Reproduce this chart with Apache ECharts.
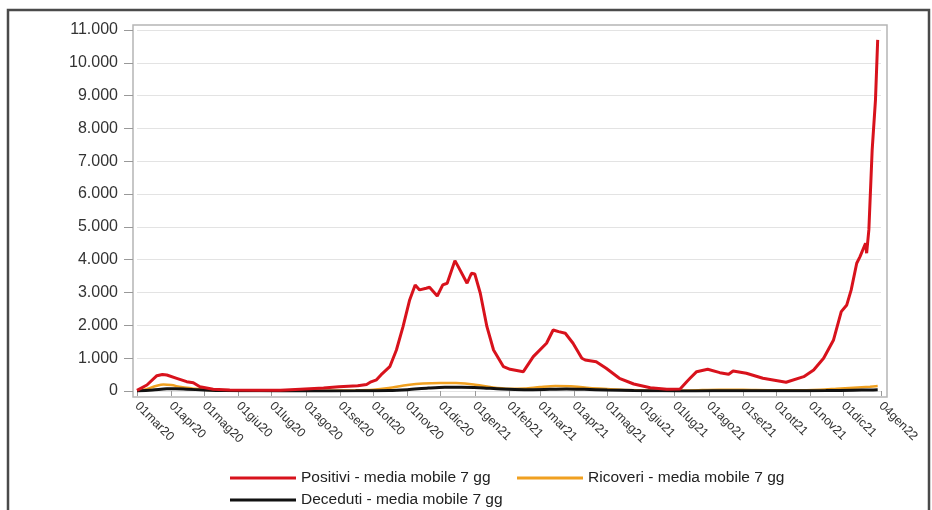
<!DOCTYPE html>
<html>
<head>
<meta charset="utf-8">
<script src="https://cdn.jsdelivr.net/npm/echarts@6/dist/echarts.min.js"></script>
<style>
html,body{margin:0;padding:0;background:#fff;}
#chart{width:932px;height:510px;}
</style>
</head>
<body>
<div id="chart"></div>
<script>
// ---- Data ----
const axisStart = '2020-03-01';
const axisEnd = '2022-01-04';
const monthNames = ['gen','feb','mar','apr','mag','giu','lug','ago','set','ott','nov','dic'];
const yTicks = [0,1000,2000,3000,4000,5000,6000,7000,8000,9000,10000,11000];

const positiviDates = ['2020-03-01','2020-03-10','2020-03-19','2020-03-24','2020-03-28','2020-04-06','2020-04-15','2020-04-21','2020-04-27','2020-05-09','2020-05-24','2020-06-20','2020-07-09','2020-07-27','2020-08-17','2020-08-31','2020-09-17','2020-09-25','2020-09-29','2020-10-04','2020-10-08','2020-10-16','2020-10-22','2020-10-28','2020-11-03','2020-11-08','2020-11-12','2020-11-18','2020-11-21','2020-11-28','2020-12-03','2020-12-07','2020-12-14','2020-12-17','2020-12-25','2020-12-29','2021-01-01','2021-01-06','2021-01-12','2021-01-18','2021-01-27','2021-02-02','2021-02-14','2021-02-23','2021-03-07','2021-03-13','2021-03-18','2021-03-24','2021-03-31','2021-04-08','2021-04-11','2021-04-21','2021-04-30','2021-05-12','2021-05-25','2021-06-09','2021-06-24','2021-07-06','2021-07-12','2021-07-15','2021-07-21','2021-07-31','2021-08-11','2021-08-19','2021-08-23','2021-09-04','2021-09-19','2021-10-10','2021-10-26','2021-11-04','2021-11-13','2021-11-22','2021-11-29','2021-12-04','2021-12-08','2021-12-13','2021-12-16','2021-12-21','2021-12-22','2021-12-24','2021-12-27','2021-12-30','2022-01-01'];
const positiviValues = [20,183,466,505,488,387,284,253,131,52,30,20,25,55,90,130,160,200,280,340,490,741,1250,1960,2774,3232,3080,3131,3160,2896,3232,3283,3973,3790,3283,3588,3567,2978,1960,1250,741,661,589,1046,1454,1860,1808,1759,1454,997,945,893,692,387,213,101,52,60,284,387,589,661,559,509,610,540,387,265,436,640,997,1555,2418,2622,3080,3893,4094,4503,4198,4909,7347,8872,10700];

const ricoveriDates = ['2020-03-01','2020-03-10','2020-03-18','2020-03-25','2020-04-01','2020-04-10','2020-04-20','2020-05-01','2020-05-20','2020-06-20','2020-07-20','2020-08-20','2020-09-15','2020-10-01','2020-10-15','2020-11-01','2020-11-15','2020-12-01','2020-12-15','2020-12-31','2021-01-15','2021-02-01','2021-02-15','2021-03-01','2021-03-15','2021-04-01','2021-04-15','2021-05-01','2021-05-20','2021-06-15','2021-07-15','2021-08-10','2021-09-01','2021-10-01','2021-10-20','2021-11-10','2021-11-25','2021-12-10','2021-12-25','2022-01-01'];
const ricoveriValues = [5,60,150,200,180,120,80,40,15,5,5,10,20,40,90,180,230,245,240,200,120,70,80,120,150,140,90,60,30,10,15,40,35,20,20,40,70,100,130,150];

const decedutiDates = ['2020-03-01','2020-03-15','2020-03-28','2020-04-05','2020-04-15','2020-05-01','2020-05-20','2020-06-20','2020-08-01','2020-09-15','2020-10-15','2020-11-01','2020-11-20','2020-12-05','2020-12-20','2021-01-05','2021-01-25','2021-02-15','2021-03-10','2021-03-25','2021-04-10','2021-05-01','2021-05-25','2021-06-20','2021-07-20','2021-08-20','2021-09-15','2021-10-15','2021-11-15','2021-12-10','2021-12-25','2022-01-01'];
const decedutiValues = [2,30,65,70,55,30,12,4,2,4,12,40,90,115,115,100,60,40,50,60,50,30,12,4,3,8,8,6,12,25,30,35];

const seriesNames = ['Positivi - media mobile 7 gg','Ricoveri - media mobile 7 gg','Deceduti - media mobile 7 gg'];

// ---- Build daily category axis ----
function iso(d){return d.toISOString().slice(0,10);}
const categories = [];
for (let t = Date.parse(axisStart+'T00:00:00Z'); t <= Date.parse(axisEnd+'T00:00:00Z'); t += 86400000) {
  categories.push(iso(new Date(t)));
}
const lastIdx = categories.length - 1;
function pairs(dates, values){ return dates.map((d,i)=>[categories.indexOf(d), values[i]]); }
function showTick(index, value){ return (value.slice(8) === '01' && index < lastIdx - 10) || index === lastIdx; }
function fmtDate(v){ return v.slice(8,10) + monthNames[parseInt(v.slice(5,7),10)-1] + v.slice(2,4); }
function fmtNum(v){ return String(v).replace(/\B(?=(\d{3})+(?!\d))/g,'.'); }

const chart = echarts.init(document.getElementById('chart'));
const font = 'Liberation Sans, Arial, sans-serif';
const legendBase = {orient:'horizontal', icon:'rect', itemWidth:66, itemHeight:3, padding:0, selectedMode:false,
  textStyle:{fontFamily:font, fontSize:15.5, color:'#222'}};

chart.setOption({
  backgroundColor:'#ffffff',
  animation:false,
  grid:{left:137, right:51, top:30, bottom:119},
  xAxis:{
    type:'category', data:categories, boundaryGap:false, offset:6,
    axisLine:{show:false},
    axisTick:{show:true, interval:showTick, length:5, lineStyle:{color:'#999'}},
    axisLabel:{interval:showTick, showMaxLabel:true, rotate:-45, margin:7, formatter:fmtDate,
      fontFamily:font, fontSize:12.5, color:'#333'},
    splitLine:{show:false}
  },
  yAxis:{
    type:'value', min:0, max:11000, interval:1000, offset:4,
    axisLine:{show:false},
    axisTick:{show:true, length:9, lineStyle:{color:'#999'}},
    axisLabel:{margin:15, formatter:fmtNum, fontFamily:font, fontSize:16, color:'#333'},
    splitLine:{show:true, lineStyle:{color:'#e3e3e3', width:1}}
  },
  legend:[
    Object.assign({}, legendBase, {left:230, top:470, data:[seriesNames[0]]}),
    Object.assign({}, legendBase, {left:517, top:470, data:[seriesNames[1]]}),
    Object.assign({}, legendBase, {left:230, top:492, data:[seriesNames[2]]})
  ],
  graphic:[
    {type:'rect', shape:{x:133, y:25, width:754, height:372}, style:{fill:'none', stroke:'#b5b5b5', lineWidth:1.5}, z:-1, silent:true},
    {type:'rect', shape:{x:8, y:10, width:921, height:530}, style:{fill:'none', stroke:'#4a4a4a', lineWidth:2.5}, silent:true}
  ],
  series:[
    {name:seriesNames[1], type:'line', data:pairs(ricoveriDates, ricoveriValues), symbol:'none', smooth:0.3,
      lineStyle:{color:'#f0a020', width:2.5}, itemStyle:{color:'#f0a020'}, z:2},
    {name:seriesNames[2], type:'line', data:pairs(decedutiDates, decedutiValues), symbol:'none', smooth:0.3,
      lineStyle:{color:'#111111', width:3}, itemStyle:{color:'#111111'}, z:3},
    {name:seriesNames[0], type:'line', data:pairs(positiviDates, positiviValues), symbol:'none',
      lineStyle:{color:'#d8121c', width:3}, itemStyle:{color:'#d8121c'}, z:4}
  ]
});
</script>
</body>
</html>
